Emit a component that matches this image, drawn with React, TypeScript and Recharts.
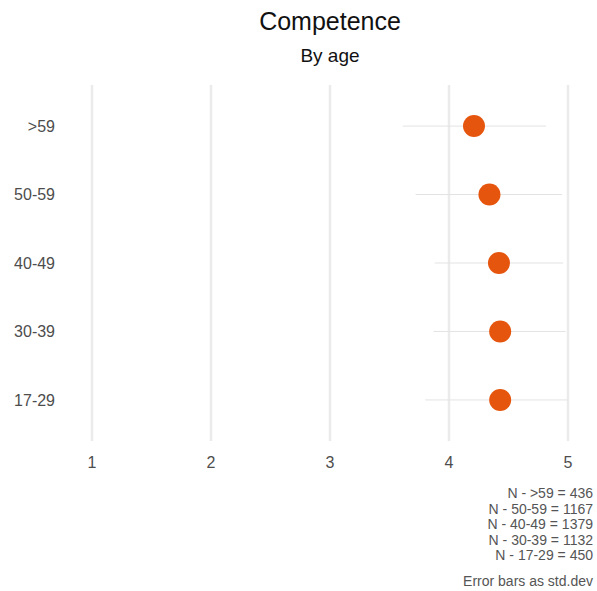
import React from "react";
import {
  ScatterChart,
  Scatter,
  XAxis,
  YAxis,
  CartesianGrid,
  ErrorBar,
} from "recharts";

// Age groups, bottom to top
const ageGroups = ["17-29", "30-39", "40-49", "50-59", ">59"];
const means = [4.43, 4.43, 4.42, 4.34, 4.21];
const lowerBounds = [3.8, 3.87, 3.88, 3.72, 3.61];
const upperBounds = [5.0, 4.98, 4.96, 4.95, 4.815];
const counts = [450, 1132, 1379, 1167, 436];
const xTicks = [1, 2, 3, 4, 5];

const FONT = "'Liberation Sans', Arial, sans-serif";
const DOT_COLOR = "#e6550d";

type Row = { pos: number; mean: number; err: [number, number] };

const rows: Row[] = ageGroups.map((_, i) => ({
  pos: i + 1,
  mean: means[i],
  err: [means[i] - lowerBounds[i], upperBounds[i] - means[i]],
}));

function Dot(props: any) {
  const { cx, cy } = props;
  if (cx == null || cy == null) return null;
  return <circle cx={cx} cy={cy} r={11} fill={DOT_COLOR} />;
}

export default function App() {
  // N notes list top group first
  const notes = ageGroups
    .map((g, i) => `N - ${g} = ${counts[i]}`)
    .reverse();

  return (
    <div
      style={{
        position: "absolute",
        left: 0,
        top: 0,
        width: 597,
        height: 591,
        background: "#fff",
        fontFamily: FONT,
      }}
    >
      {/* Title + subtitle, centered over the plot panel */}
      <div
        style={{
          position: "absolute",
          left: 92,
          width: 476,
          top: 7,
          textAlign: "center",
          fontSize: 25,
          lineHeight: "29px",
          color: "#111",
        }}
      >
        Competence
      </div>
      <div
        style={{
          position: "absolute",
          left: 92,
          width: 476,
          top: 45,
          textAlign: "center",
          fontSize: 19,
          lineHeight: "22px",
          color: "#111",
        }}
      >
        By age
      </div>

      <ScatterChart
        width={597}
        height={591}
        margin={{ top: 85, right: 29, bottom: 120, left: 0 }}
      >
        <CartesianGrid
          horizontal={false}
          stroke="#ebebeb"
          strokeWidth={2.5}
        />
        <XAxis
          type="number"
          dataKey="mean"
          domain={[1, 5]}
          ticks={xTicks}
          allowDataOverflow
          axisLine={false}
          tickLine={false}
          tickSize={0}
          tickMargin={16}
          height={30}
          tick={{ fill: "#4d4d4d", fontSize: 16, fontFamily: FONT }}
        />
        <YAxis
          type="number"
          dataKey="pos"
          domain={[0.4, 5.6]}
          ticks={[1, 2, 3, 4, 5]}
          tickFormatter={(v: number) => ageGroups[v - 1] ?? ""}
          axisLine={false}
          tickLine={false}
          tickSize={0}
          tickMargin={37}
          width={92}
          tick={{ fill: "#4d4d4d", fontSize: 16, fontFamily: FONT }}
        />
        <Scatter data={rows} shape={<Dot />} isAnimationActive={false}>
          <ErrorBar
            dataKey="err"
            direction="x"
            width={0}
            stroke="#e3e3e3"
            strokeWidth={1}
            isAnimationActive={false}
          />
        </Scatter>
      </ScatterChart>

      {/* Footnotes */}
      <div
        style={{
          position: "absolute",
          right: 4,
          top: 486,
          textAlign: "right",
          fontSize: 14,
          lineHeight: "15.5px",
          color: "#555",
        }}
      >
        {notes.map((n) => (
          <div key={n}>{n}</div>
        ))}
        <div style={{ marginTop: 10 }}>Error bars as std.dev</div>
      </div>
    </div>
  );
}
